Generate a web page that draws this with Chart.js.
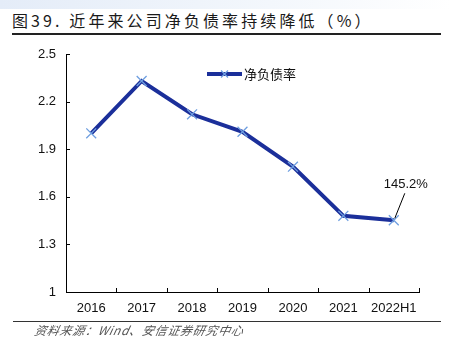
<!DOCTYPE html>
<html><head><meta charset="utf-8">
<script src="https://cdn.jsdelivr.net/npm/chart.js@4/dist/chart.umd.min.js"></script>
<style>
html,body{margin:0;padding:0;background:#fff;}
#wrap{position:relative;width:451px;height:356px;overflow:hidden;}
#band{position:absolute;left:0;top:0;width:451px;height:9px;background:linear-gradient(to right,#e4ecf8,#f3f7fc 60%,#ffffff);}
#title{position:absolute;left:12px;top:9px;font-family:"Noto Sans CJK SC",sans-serif;font-size:16px;letter-spacing:3.1px;color:#1a1a1a;line-height:22px;white-space:nowrap;}
#tline{position:absolute;left:12px;top:33px;width:429px;height:1.5px;background:#222;}
#sline{position:absolute;left:13px;top:321px;width:428px;height:1px;background:#333;}
#src{position:absolute;left:33px;top:322px;font-family:"Noto Sans CJK SC",sans-serif;font-size:12px;font-style:italic;letter-spacing:0.7px;color:#555;line-height:16px;white-space:nowrap;transform:skewX(-12deg);transform-origin:left bottom;}
canvas{position:absolute;left:0;top:0;}
</style></head>
<body><div id="wrap">
<div id="band"></div>
<div id="title">图39. 近年来公司净负债率持续降低（%）</div>
<div id="tline"></div>
<canvas id="c" width="451" height="356"></canvas>
<div id="sline"></div>
<div id="src">资料来源：Wind、安信证券研究中心</div>
</div>
<script>
const categories = ["2016","2017","2018","2019","2020","2021","2022H1"];
const netDebtRatio = [2.00, 2.33, 2.12, 2.01, 1.79, 1.48, 1.452];
const yTicks = [1, 1.3, 1.6, 1.9, 2.2, 2.5];
const seriesName = "净负债率";
const annotationText = "145.2%";

const lineColor = "#1b2f9a";
const markerColor = "#6f9fe0";
const axisFont = {family:"'Liberation Sans', Arial, sans-serif", size:13};

const extras = {
  id:'extras',
  afterDraw(chart){
    const ctx = chart.ctx;
    const xs = chart.scales.x, ys = chart.scales.y;
    const a = chart.chartArea;
    ctx.save();
    ctx.strokeStyle = '#000';
    ctx.lineWidth = 1;
    yTicks.forEach(v=>{
      const y = Math.round(ys.getPixelForValue(v))+0.5;
      ctx.beginPath(); ctx.moveTo(a.left, y); ctx.lineTo(a.left+4, y); ctx.stroke();
    });
    for(let i=0;i<=categories.length;i++){
      const x = Math.round(xs.getPixelForValue(i-0.5))+0.5;
      ctx.beginPath(); ctx.moveTo(x, a.bottom); ctx.lineTo(x, a.bottom-4); ctx.stroke();
    }
    const lx1 = 207, lx2 = 242, ly = 74;
    ctx.strokeStyle = lineColor; ctx.lineWidth = 4;
    ctx.beginPath(); ctx.moveTo(lx1, ly); ctx.lineTo(lx2, ly); ctx.stroke();
    ctx.strokeStyle = markerColor; ctx.lineWidth = 1.3;
    const cx=(lx1+lx2)/2, r=3.5;
    ctx.beginPath(); ctx.moveTo(cx-r,ly-r); ctx.lineTo(cx+r,ly+r); ctx.moveTo(cx-r,ly+r); ctx.lineTo(cx+r,ly-r); ctx.stroke();
    ctx.fillStyle = '#111';
    ctx.font = "13px 'Noto Sans CJK SC', sans-serif";
    ctx.textAlign='left'; ctx.textBaseline='middle';
    ctx.fillText(seriesName, 244, ly);
    const last = categories.length-1;
    const px = xs.getPixelForValue(last), py = ys.getPixelForValue(netDebtRatio[last]);
    ctx.strokeStyle = '#000'; ctx.lineWidth = 1;
    ctx.beginPath(); ctx.moveTo(px+1, py-2); ctx.lineTo(px+11, py-27); ctx.stroke();
    ctx.font = "13px 'Liberation Sans', Arial, sans-serif";
    ctx.textAlign='center';
    ctx.fillText(annotationText, px+12, py-36);
    ctx.restore();
  }
};

new Chart(document.getElementById('c'), {
  type:'line',
  data:{
    labels:categories,
    datasets:[{
      label:seriesName,
      data:netDebtRatio,
      borderColor:lineColor,
      borderWidth:4,
      tension:0,
      pointStyle:'crossRot',
      pointRadius:7,
      pointBorderColor:markerColor,
      pointBorderWidth:1.3,
      pointBackgroundColor:markerColor
    }]
  },
  options:{
    responsive:false,
    animation:false,
    layout:{padding:{left:0,right:32,top:54,bottom:34}},
    plugins:{legend:{display:false},tooltip:{enabled:false}},
    scales:{
      x:{
        offset:true,
        grid:{display:false,drawTicks:false},
        border:{display:true,color:'#000',width:1},
        ticks:{color:'#111',font:axisFont,padding:9,maxRotation:0,autoSkip:false},
        afterFit(s){s.height=30;}
      },
      y:{
        min:1,max:2.5,
        afterBuildTicks(s){s.ticks = yTicks.map(v=>({value:v}));},
        grid:{display:false,drawTicks:false},
        border:{display:true,color:'#000',width:1},
        ticks:{color:'#111',font:axisFont,padding:10,callback:(v)=>String(v)},
        afterFit(s){s.width=66;}
      }
    }
  },
  plugins:[extras]
});
</script>
</body></html>
